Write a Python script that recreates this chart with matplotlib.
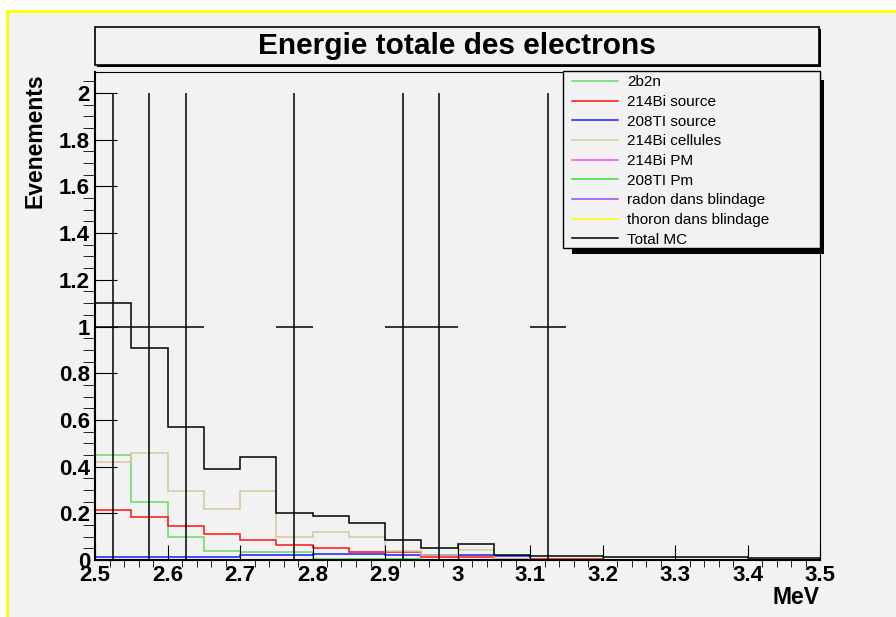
import numpy as np
import matplotlib.pyplot as plt
from matplotlib.patches import Rectangle
from matplotlib.ticker import MultipleLocator, FormatStrFormatter

plt.rcParams['font.family'] = ['Liberation Sans', 'DejaVu Sans']

# 20 bins of 0.05 MeV between 2.5 and 3.5 MeV
edges = np.round(np.linspace(2.5, 3.5, 21), 3)

two_b2n     = [0.45, 0.25, 0.10, 0.04, 0.035, 0.033, 0.003, 0.002, 0.001, 0.001,
               0.0, 0.0, 0.0, 0.0, 0.0, 0.0, 0.0, 0.0, 0.0, 0.0]
bi_source   = [0.212, 0.185, 0.145, 0.111, 0.084, 0.063, 0.051, 0.033, 0.033, 0.013,
               0.011, 0.004, 0.004, 0.004, 0.0, 0.0, 0.0, 0.0, 0.0, 0.0]
tl_source   = [0.013, 0.013, 0.013, 0.013, 0.020, 0.020, 0.025, 0.025, 0.023, 0.023,
               0.021, 0.017, 0.0, 0.0, 0.0, 0.0, 0.0, 0.0, 0.0, 0.0]
bi_cells    = [0.42, 0.457, 0.296, 0.219, 0.296, 0.097, 0.118, 0.097, 0.040, 0.023,
               0.041, 0.005, 0.0, 0.0, 0.0, 0.0, 0.0, 0.0, 0.0, 0.0]
bi_pm       = [0.001, 0.001, 0.001, 0.001, 0.001, 0.001, 0.001, 0.001, 0.0, 0.0,
               0.0, 0.0, 0.0, 0.0, 0.0, 0.0, 0.0, 0.0, 0.0, 0.0]
tl_pm       = [0.0, 0.0, 0.0, 0.0, 0.0, 0.0, 0.001, 0.003, 0.003, 0.002,
               0.0, 0.0, 0.0, 0.0, 0.0, 0.0, 0.0, 0.0, 0.0, 0.0]
radon       = [0.001, 0.001, 0.001, 0.001, 0.001, 0.0, 0.0, 0.0, 0.0, 0.0,
               0.0, 0.0, 0.0, 0.0, 0.0, 0.0, 0.0, 0.0, 0.0, 0.0]
thoron      = [0.001] * 20
total_mc    = [1.10, 0.91, 0.57, 0.39, 0.44, 0.20, 0.19, 0.16, 0.085, 0.05,
               0.068, 0.023, 0.017, 0.017, 0.011, 0.011, 0.011, 0.011, 0.007, 0.007]
data_counts = [1, 1, 1, 0, 0, 1, 0, 0, 1, 1,
               0, 0, 1, 0, 0, 0, 0, 0, 0, 0]

series = [
    ('2b2n', two_b2n, '#6ad66a'),
    ('214Bi source', bi_source, '#ff1010'),
    ('208TI source', tl_source, '#1a1aff'),
    ('214Bi cellules', bi_cells, '#d4ca98'),
    ('214Bi PM', bi_pm, '#ff44ff'),
    ('208TI Pm', tl_pm, '#33e033'),
    ('radon dans blindage', radon, '#9a4cf0'),
    ('thoron dans blindage', thoron, '#ffff00'),
    ('Total MC', total_mc, 'black'),
]

W, H = 896, 617
bg = '#f2f2f2'
fig = plt.figure(figsize=(W / 100, H / 100), dpi=100, facecolor='white')

def fx(px):
    return px / W

def fy(py):
    return 1 - py / H

def box(x0, y0, x1, y1, **kw):
    # rectangle given in pixel coords (top-left origin)
    r = Rectangle((fx(x0), fy(y1)), (x1 - x0) / W, (y1 - y0) / H,
                  transform=fig.transFigure, **kw)
    fig.add_artist(r)
    return r

# pad with yellow border
box(7, 11, 960, 680, facecolor=bg, edgecolor='#ffff00', lw=2, zorder=-10)

ax = fig.add_axes([fx(95), fy(560), fx(820 - 95), (560 - 72) / H])
ax.set_facecolor(bg)

handles = []
for name, vals, col in series:
    h = ax.stairs(vals, edges, color=col, lw=1.1, label=name)
    handles.append(h)

centers = (edges[:-1] + edges[1:]) / 2
counts = np.array(data_counts, dtype=float)
mask = counts > 0
ax.errorbar(centers[mask], counts[mask], yerr=np.sqrt(counts[mask]), xerr=0.025,
            fmt='none', ecolor='black', elinewidth=1.1, capsize=0)

ax.set_xlim(2.5, 3.5)
ax.set_ylim(0, 2.09)
ax.xaxis.set_major_locator(MultipleLocator(0.1))
ax.xaxis.set_minor_locator(MultipleLocator(0.02))
ax.yaxis.set_major_locator(MultipleLocator(0.2))
ax.yaxis.set_minor_locator(MultipleLocator(0.05))
ax.xaxis.set_major_formatter(FormatStrFormatter('%g'))
ax.yaxis.set_major_formatter(FormatStrFormatter('%g'))
ax.tick_params(direction='in', width=0.8, labelsize=16)
ax.tick_params(axis='x', which='major', length=10.8, pad=3.6)
ax.tick_params(axis='x', which='minor', length=5)
ax.tick_params(axis='y', which='major', length=16, pad=3.6)
ax.tick_params(axis='y', which='minor', length=8.6)
for lab in ax.get_xticklabels() + ax.get_yticklabels():
    lab.set_fontweight('bold')
for s in ['left', 'bottom']:
    ax.spines[s].set_linewidth(1.5)
for s in ['top', 'right']:
    ax.spines[s].set_linewidth(0.8)

fig.text(fx(35), fy(73), 'Evenements', rotation=90, ha='center', va='top',
         fontsize=16.5, fontweight='bold')
fig.text(fx(819), fy(597), 'MeV', ha='right', va='center', fontsize=16.5, fontweight='bold')

# title box with small shadow
box(97, 29, 821, 67, facecolor='black', edgecolor='none', zorder=3)
box(95, 27, 819, 65, facecolor=bg, edgecolor='black', lw=1.2, zorder=3.5)
fig.text(fx(457), fy(46), 'Energie totale des electrons', ha='center', va='center',
         fontsize=21.5, fontweight='bold', zorder=4)

# legend: heavy shadow, frame, then entries
box(572, 80, 824, 254, facecolor='black', edgecolor='none', zorder=4)
box(563, 71, 820, 248, facecolor=bg, edgecolor='black', lw=1.0, zorder=4.5)
leg = fig.legend(handles, [s[0] for s in series], loc='upper left',
                 bbox_to_anchor=(fx(572), fy(75.5)), borderaxespad=0, borderpad=0,
                 fontsize=11, handlelength=3.0, handletextpad=0.62,
                 labelspacing=0.37, frameon=False)
leg.set_zorder(5)

fig.savefig('out.png', dpi=100, facecolor='white')
